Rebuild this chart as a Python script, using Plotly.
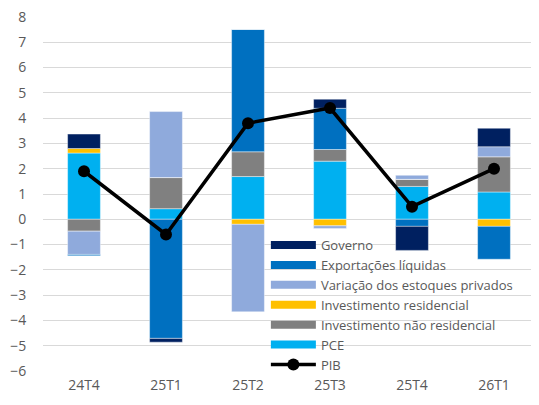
import plotly.graph_objects as go

categories = ["24T4", "25T1", "25T2", "25T3", "25T4", "26T1"]
pce = [2.62, 0.42, 1.69, 2.30, 1.30, 1.08]
inv_nao_res = [-0.47, 1.23, 0.98, 0.46, 0.28, 1.39]
inv_res = [0.18, 0.0, -0.20, -0.26, 0.0, -0.28]
variacao = [-0.92, 2.61, -3.46, -0.10, 0.16, 0.40]
exportacoes = [-0.05, -4.71, 4.84, 1.63, -0.28, -1.30]
governo = [0.57, -0.15, 0.0, 0.36, -0.95, 0.73]
pib = [1.9, -0.6, 3.8, 4.4, 0.5, 2.0]
y_ticks = list(range(-6, 9))

series = [
    ("PCE", pce, "#00B0F0", 6),
    ("Investimento não residencial", inv_nao_res, "#808080", 5),
    ("Investimento residencial", inv_res, "#FFC000", 4),
    ("Variação dos estoques privados", variacao, "#8FAADC", 3),
    ("Exportações líquidas", exportacoes, "#0070C0", 2),
    ("Governo", governo, "#002060", 1),
]

FONT = "Open Sans"
TXT = "#595959"

fig = go.Figure()
for name, vals, color, rank in series:
    fig.add_trace(go.Bar(
        x=categories, y=vals, name=name, marker_color=color,
        marker_line_color="rgba(255,255,255,0.7)", marker_line_width=0.6,
        showlegend=False,
    ))
    fig.add_trace(go.Scatter(
        x=[None], y=[None], mode="lines", name=name,
        line=dict(color=color, width=8), legendrank=rank,
    ))

fig.add_trace(go.Scatter(
    x=categories, y=pib, name="PIB", mode="lines+markers",
    line=dict(color="black", width=3.5),
    marker=dict(color="black", size=12), legendrank=7,
))

# page body has an 8px default margin: figure sized so it fits the 539x405 window
fig.update_layout(
    width=531, height=397,
    margin=dict(l=35, r=4, t=9, b=34, autoexpand=False),
    barmode="relative", bargap=0.6,
    plot_bgcolor="white", paper_bgcolor="white",
    font=dict(family=FONT, size=14, color=TXT),
    legend=dict(
        x=0.453, y=0.398, xanchor="left", yanchor="top",
        bgcolor="rgba(0,0,0,0)", traceorder="normal",
        itemwidth=45, font=dict(size=13, color=TXT),
        tracegroupgap=0,
    ),
    showlegend=True,
)
fig.update_yaxes(
    range=[-6, 8], tickvals=y_ticks, showgrid=True, gridcolor="#D9D9D9",
    gridwidth=1.3, zeroline=False, ticks="outside", ticklen=13,
    tickcolor="rgba(0,0,0,0)", tickfont=dict(size=14, color=TXT),
    ticklabeloverflow="allow",
)
fig.update_xaxes(
    showgrid=False, zeroline=False, showline=False,
    tickfont=dict(size=14, color=TXT), ticks="", ticklabelstandoff=4,
)

fig.write_html("out.html")
